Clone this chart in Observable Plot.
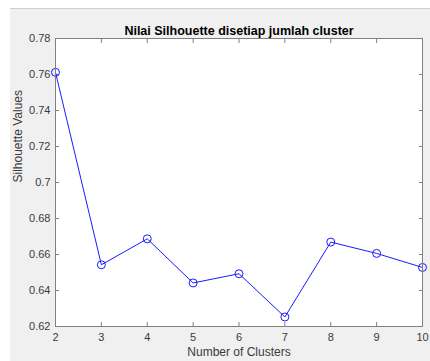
<!DOCTYPE html>
<html>
<head>
<meta charset="utf-8">
<script src="https://cdn.jsdelivr.net/npm/d3@7"></script>
<script src="https://cdn.jsdelivr.net/npm/@observablehq/plot@0.6"></script>
<style>
  html, body { margin: 0; padding: 0; background: #ffffff; }
  #wrap { position: relative; width: 430px; height: 361px; overflow: hidden; background: #ffffff; }
  #fig { position: absolute; left: 10px; top: 8px; right: 0; bottom: 0; background: #f0f0f0; border-top: 1px solid #cfcfcf; }
  #chart { position: absolute; left: 0; top: 0; }
</style>
</head>
<body>
<div id="wrap"><div id="fig"></div><div id="chart"></div></div>
<script>
const clusters = [2, 3, 4, 5, 6, 7, 8, 9, 10];
const silhouette = [0.7612, 0.6543, 0.6687, 0.6442, 0.6493, 0.6253, 0.6669, 0.6606, 0.6528];
const xTicks = [2, 3, 4, 5, 6, 7, 8, 9, 10];
const yTicks = [0.62, 0.64, 0.66, 0.68, 0.70, 0.72, 0.74, 0.76, 0.78];
const yTickLabels = ["0.62", "0.64", "0.66", "0.68", "0.7", "0.72", "0.74", "0.76", "0.78"];
const titleText = "Nilai Silhouette disetiap jumlah cluster";
const xLabel = "Number of Clusters";
const yLabel = "Silhouette Values";

const data = clusters.map((c, i) => ({k: c, s: silhouette[i]}));
const yFmt = (d) => yTickLabels[yTicks.findIndex(t => Math.abs(t - d) < 1e-9)];
const blank = () => "";
const axisColor = "#808080";
const textColor = "#3a3a3a";
const blue = "#1a1aff";

const chart = Plot.plot({
  width: 430,
  height: 361,
  marginLeft: 55,
  marginRight: 8,
  marginTop: 38,
  marginBottom: 35,
  style: {background: "transparent", fontFamily: "'Liberation Sans', Arial, sans-serif", fontSize: "11px", color: textColor},
  x: {domain: [2, 10]},
  y: {domain: [0.62, 0.78]},
  marks: [
    Plot.frame({fill: "white", stroke: null}),
    // tick labels
    Plot.axisX({anchor: "bottom", ticks: xTicks, tickSize: 0, tickPadding: 7, tickFormat: d => String(d), label: null, fill: textColor, fontSize: 11}),
    Plot.axisY({anchor: "left", ticks: yTicks, tickSize: 0, tickPadding: 5, tickFormat: yFmt, label: null, fill: textColor, fontSize: 11}),
    // inward ticks on all four sides
    Plot.axisX({anchor: "bottom", ticks: xTicks, tickSize: 4, dy: -4, tickFormat: blank, label: null, stroke: axisColor}),
    Plot.axisX({anchor: "top", ticks: xTicks, tickSize: 4, dy: 4, tickFormat: blank, label: null, stroke: axisColor}),
    Plot.axisY({anchor: "left", ticks: yTicks, tickSize: 4, dx: 4, tickFormat: blank, label: null, stroke: axisColor}),
    Plot.axisY({anchor: "right", ticks: yTicks, tickSize: 4, dx: -4, tickFormat: blank, label: null, stroke: axisColor}),
    Plot.line(data, {x: "k", y: "s", stroke: blue, strokeWidth: 1}),
    Plot.dot(data, {x: "k", y: "s", r: 4, stroke: blue, fill: "none", strokeWidth: 1}),
    Plot.frame({stroke: axisColor, strokeWidth: 1}),
    Plot.text([titleText], {text: d => d, frameAnchor: "top", dy: -12, fontWeight: "bold", fontSize: 12.5, fill: "#000000"}),
    Plot.text([xLabel], {text: d => d, frameAnchor: "bottom", dy: 29, fontSize: 12, fill: textColor}),
    Plot.text([yLabel], {text: d => d, frameAnchor: "left", dx: -37, rotate: -90, fontSize: 12, fill: textColor})
  ]
});
document.getElementById("chart").appendChild(chart);
</script>
</body>
</html>
